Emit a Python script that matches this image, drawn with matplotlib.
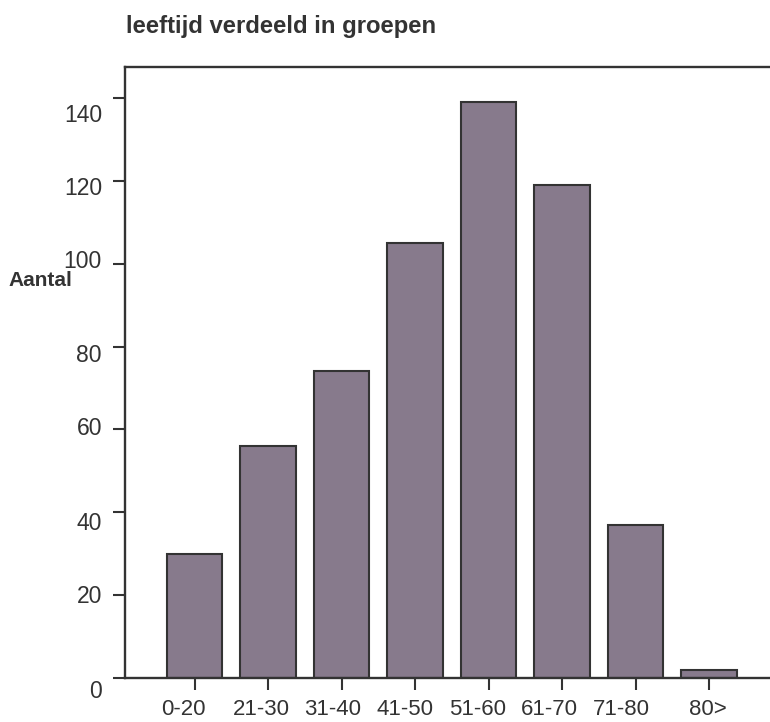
import matplotlib.pyplot as plt
import matplotlib.transforms as mtransforms
import numpy as np

plt.rcParams['font.family'] = ['Liberation Sans', 'DejaVu Sans']

# data
groepen = ['0-20', '21-30', '31-40', '41-50', '51-60', '61-70', '71-80', '80>']
aantal = [30, 56, 74, 105, 139, 119, 37, 2]
y_ticks = [0, 20, 40, 60, 80, 100, 120, 140]

# small pixel nudges of the tick labels as they sit in the original
y_label_shift = [11, -1, 9, -3, 6, -5, 5, 15]
x_label_shift = [-11, -7, -9, -10, -11, -13, -14, -1]

dark = '#333333'
bar_color = '#877a8c'

fig = plt.figure(figsize=(7.7, 7.22), dpi=100)
ax = fig.add_axes([125 / 770, 1 - 678 / 722, 1 - 125 / 770, (678 - 67) / 722])

x = np.arange(len(groepen))
ax.bar(x, aantal, width=0.75, color=bar_color, edgecolor=dark, linewidth=1.5, zorder=2)

ax.set_xlim(-0.946, 7.83)
ax.set_ylim(0, 147.5)
ax.set_xticks(x)
ax.set_xticklabels(groepen)
ax.set_yticks(y_ticks)
ax.set_yticklabels([str(v) for v in y_ticks])

ax.spines['right'].set_visible(False)
for s in ['left', 'top', 'bottom']:
    ax.spines[s].set_color(dark)
    ax.spines[s].set_linewidth(1.7)

ax.tick_params(axis='both', direction='out', length=8.6, width=1.5, color=dark,
               labelsize=16.5, labelcolor=dark)
ax.tick_params(axis='y', pad=8)
ax.tick_params(axis='x', labelsize=16, pad=6.5)

for tick, dy in zip(ax.yaxis.get_major_ticks(), y_label_shift):
    off = mtransforms.ScaledTranslation(0, -dy / 100, fig.dpi_scale_trans)
    tick.label1.set_transform(tick.label1.get_transform() + off)
for tick, dx in zip(ax.xaxis.get_major_ticks(), x_label_shift):
    off = mtransforms.ScaledTranslation(dx / 100, 0, fig.dpi_scale_trans)
    tick.label1.set_transform(tick.label1.get_transform() + off)

fig.text(126 / 770, 1 - 27 / 722, 'leeftijd verdeeld in groepen', fontsize=17.2,
         fontweight='bold', color=dark, ha='left', va='center')
fig.text(8 / 770, 1 - 280 / 722, 'Aantal', fontsize=15, fontweight='bold',
         color=dark, ha='left', va='center')

fig.savefig('out.png', dpi=100)
